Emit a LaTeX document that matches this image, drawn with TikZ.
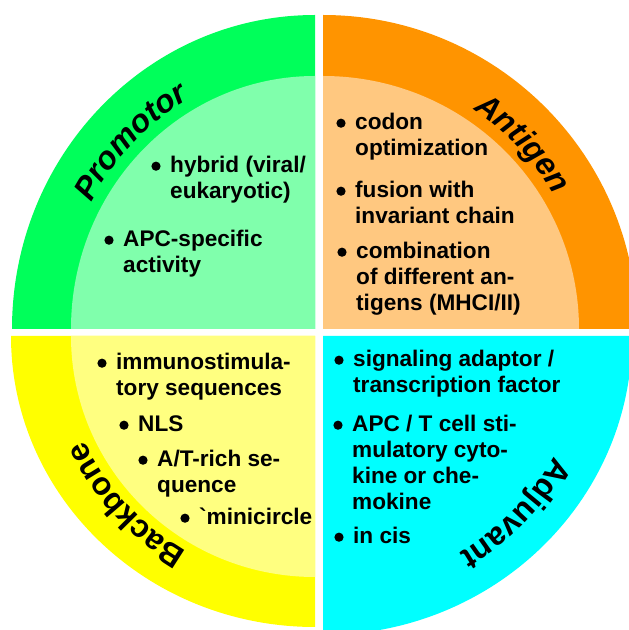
\documentclass[tikz,border=0pt]{standalone}
\usepackage{fontspec}
\setmainfont{Liberation Sans}[Ligatures=TeXOff]
\usetikzlibrary{calc,decorations.text}

\definecolor{promoRing}{RGB}{0,255,90}
\definecolor{promoFill}{RGB}{128,255,172}
\definecolor{antiRing}{RGB}{255,148,0}
\definecolor{antiFill}{RGB}{255,200,128}
\definecolor{backRing}{RGB}{255,255,0}
\definecolor{backFill}{RGB}{255,255,128}
\definecolor{adjuFill}{RGB}{0,255,255}

\newcommand\bulletlines[1]{\begin{tabular}[t]{@{}l@{}}#1\end{tabular}}

\tikzset{
  item/.style={anchor=base west, inner sep=0pt,
    font=\fontsize{22.6}{25.8}\selectfont\bfseries},
  bulletdot/.style={fill=black},
}

\begin{document}
\begin{tikzpicture}[x=1pt,y=1pt]
\useasboundingbox (0,0) rectangle (629,630);
\clip (0,0) rectangle (629,630);

% quadrant corners
\coordinate (tl) at (315,301);
\coordinate (tr) at (323,301);
\coordinate (bl) at (315,294);
\coordinate (br) at (323,294);

% Promotor quadrant
\fill[promoRing] (tl) -- ([shift={(180:303 and 314)}]tl)
  arc[start angle=180, end angle=90, x radius=303, y radius=314] -- cycle;
\fill[promoFill] (tl) -- ([shift={(180:244 and 253)}]tl)
  arc[start angle=180, end angle=90, x radius=244, y radius=253] -- cycle;

% Antigen quadrant
\fill[antiRing] (tr) -- ([shift={(90:314 and 314)}]tr)
  arc[start angle=90, end angle=0, x radius=314, y radius=314] -- cycle;
\fill[antiFill] (tr) -- ([shift={(90:256 and 253)}]tr)
  arc[start angle=90, end angle=0, x radius=256, y radius=253] -- cycle;

% Backbone quadrant
\fill[backRing] (bl) -- ([shift={(180:304 and 291)}]bl)
  arc[start angle=180, end angle=270, x radius=304, y radius=291] -- cycle;
\fill[backFill] (bl) -- ([shift={(180:244 and 241)}]bl)
  arc[start angle=180, end angle=270, x radius=244, y radius=241] -- cycle;

% Adjuvant quadrant
\fill[adjuFill] (br) -- ([shift={(270:309 and 299)}]br)
  arc[start angle=270, end angle=360, x radius=309, y radius=299] -- cycle;

% curved titles in the rings
\path[decorate, decoration={text along path, text align=center,
  text={|\fontsize{32}{32}\selectfont\bfseries\itshape|Promotor}}]
  ([shift={(180:255 and 264)}]tl)
  arc[start angle=180, end angle=90, x radius=255, y radius=264];
\path[decorate, decoration={text along path, text align=center,
  text={|\fontsize{32}{32}\selectfont\bfseries\itshape|Antigen}}]
  ([shift={(86:268 and 265)}]tr)
  arc[start angle=86, end angle=0, x radius=268, y radius=265];
\path[decorate, decoration={text along path, text align=center,
  text={|\fontsize{32}{32}\selectfont\bfseries|Backbone}}]
  ([shift={(266:254 and 250)}]bl)
  arc[start angle=266, end angle=178, x radius=254, y radius=250];
\path[decorate, decoration={text along path, text align=center,
  text={|\fontsize{32}{32}\selectfont\bfseries|Adjuvant}}]
  ([shift={(362:262 and 254)}]br)
  arc[start angle=362, end angle=272, x radius=262, y radius=254];

% Promotor items
\node[item] (p1) at (170,457) {\bulletlines{hybrid (viral/\\eukaryotic)}};
\node[item] (p2) at (123,383) {\bulletlines{APC-specific\\activity}};

% Antigen items
\node[item] (a1) at (355,500) {\bulletlines{codon\\optimization}};
\node[item] (a2) at (355,432) {\bulletlines{fusion with\\invariant chain}};
\node[item] (a3) at (356,371) {\bulletlines{combination\\of different an-\\tigens (MHCI/II)}};

% Backbone items
\node[item] (b1) at (116,260) {\bulletlines{immunostimula-\\tory sequences}};
\node[item] (b2) at (138,198) {NLS};
\node[item] (b3) at (157,163) {\bulletlines{A/T-rich se-\\quence}};
\node[item] (b4) at (199,105) {\symbol{96}minicircle};

% Adjuvant items
\node[item] (j1) at (353,263) {\bulletlines{signaling adaptor /\\transcription factor}};
\node[item] (j2) at (352,198) {\bulletlines{APC / T cell sti-\\mulatory cyto-\\kine or che-\\mokine}};
\node[item] (j3) at (353,86) {in cis};

% bullets in front of each item
\foreach \n in {p1,p2,a1,a2,a3,b1,b2,b3,b4,j1,j2,j3}
  \fill[bulletdot] ($(\n.base west)+(-14,6.8)$) circle (4.6);
\end{tikzpicture}
\end{document}
